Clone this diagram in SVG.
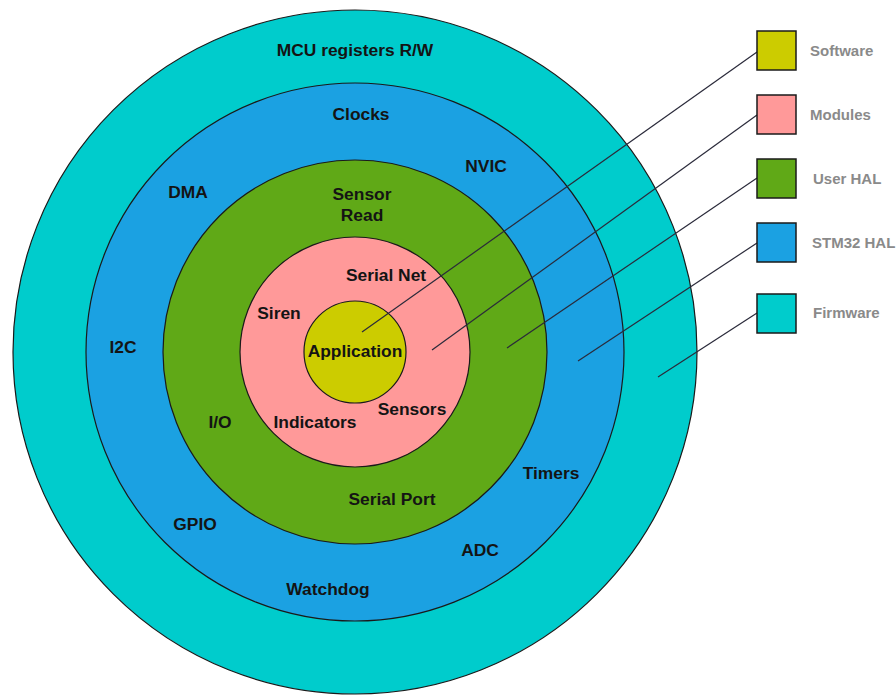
<svg xmlns="http://www.w3.org/2000/svg" width="896" height="695" viewBox="0 0 896 695">
<style>
.ring{stroke:#1a1a1a;stroke-width:1.2}
.lbl{font-family:"Liberation Sans",Arial,sans-serif;font-weight:bold;font-size:17.4px;fill:#141414;text-anchor:middle;dominant-baseline:central}
.lg{font-family:"Liberation Sans",Arial,sans-serif;font-weight:bold;font-size:15px;fill:#8a8a8a;dominant-baseline:central}
.box{stroke:#1a1a1a;stroke-width:1.5}
.conn{stroke:#2a2a3a;stroke-width:1.2;fill:none}
</style>
<rect width="896" height="695" fill="#ffffff"/>
<g id="firmware">
<circle class="ring" cx="355" cy="352" r="342" fill="#00cccc"/>
<text class="lbl" x="355" y="50">MCU registers R/W</text>
</g>
<g id="stm32hal">
<circle class="ring" cx="355" cy="352" r="269" fill="#1ba1e2"/>
<text class="lbl" x="361" y="114">Clocks</text>
<text class="lbl" x="188" y="192">DMA</text>
<text class="lbl" x="486" y="166">NVIC</text>
<text class="lbl" x="123" y="347">I2C</text>
<text class="lbl" x="551" y="473">Timers</text>
<text class="lbl" x="195" y="524">GPIO</text>
<text class="lbl" x="480" y="550">ADC</text>
<text class="lbl" x="328" y="589">Watchdog</text>
</g>
<g id="userhal">
<circle class="ring" cx="355" cy="352" r="192" fill="#60a917"/>
<text class="lbl" x="362" y="194">Sensor</text>
<text class="lbl" x="362" y="215">Read</text>
<text class="lbl" x="220" y="422">I/O</text>
<text class="lbl" x="392" y="499">Serial Port</text>
</g>
<g id="modules">
<circle class="ring" cx="355" cy="352" r="115" fill="#ff9999"/>
<text class="lbl" x="386" y="275">Serial Net</text>
<text class="lbl" x="279" y="313">Siren</text>
<text class="lbl" x="315" y="422">Indicators</text>
<text class="lbl" x="412" y="409">Sensors</text>
</g>
<g id="software">
<circle class="ring" cx="355" cy="352" r="51" fill="#cccc00"/>
<text class="lbl" x="355" y="351">Application</text>
</g>
<g id="connectors">
<line class="conn" x1="757" y1="52" x2="362" y2="332"/>
<line class="conn" x1="757" y1="115" x2="432" y2="350"/>
<line class="conn" x1="757" y1="178" x2="507" y2="348"/>
<line class="conn" x1="757" y1="243" x2="578" y2="361"/>
<line class="conn" x1="757" y1="313" x2="658" y2="377"/>
</g>
<g id="legend-software">
<rect class="box" x="757" y="31" width="39" height="39" fill="#cccc00"/>
<text class="lg" x="810" y="50">Software</text>
</g>
<g id="legend-modules">
<rect class="box" x="757" y="95" width="39" height="39" fill="#ff9999"/>
<text class="lg" x="810" y="114">Modules</text>
</g>
<g id="legend-userhal">
<rect class="box" x="757" y="159" width="39" height="39" fill="#60a917"/>
<text class="lg" x="813" y="178">User HAL</text>
</g>
<g id="legend-stm32hal">
<rect class="box" x="757" y="223" width="39" height="39" fill="#1ba1e2"/>
<text class="lg" x="812" y="242">STM32 HAL</text>
</g>
<g id="legend-firmware">
<rect class="box" x="757" y="294" width="39" height="39" fill="#00cccc"/>
<text class="lg" x="813" y="312">Firmware</text>
</g>
</svg>
